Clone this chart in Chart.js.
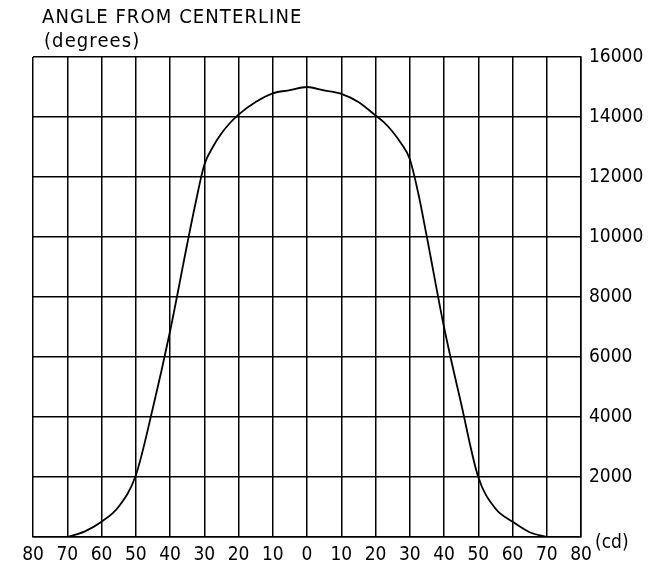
<!DOCTYPE html>
<html>
<head>
<meta charset="utf-8">
<script src="https://cdn.jsdelivr.net/npm/chart.js@4/dist/chart.umd.min.js"></script>
<style>
    body { margin: 0; background: #fff; }
    #wrap { width: 653px; height: 574px; }
</style>
</head>
<body>
<div id="wrap"><canvas id="beam-chart" width="653" height="574"></canvas></div>
<script>
// angle from centerline (deg) and luminous intensity (cd)
const angles = [-70, -65, -60, -55, -50, -45, -40, -35, -32.5, -30, -27.5, -25, -22.5, -20, -15, -10, -5, 0,
                5, 10, 15, 20, 22.5, 25, 27.5, 30, 32.5, 35, 40, 45, 50, 55, 60, 65, 70];
const candela = [0, 180, 510, 1010, 2050, 4300, 6850, 9750, 11150, 12400, 13000, 13450, 13800, 14080, 14500, 14790, 14895, 15000,
                 14885, 14770, 14500, 14050, 13820, 13510, 13120, 12600, 11450, 10000, 7000, 4450, 2000, 950, 510, 160, 0];

const titleLines = ["ANGLE FROM CENTERLINE", "(degrees)"];
const unitLabel = "(cd)";

const FONT = "DejaVu Sans Condensed, DejaVu Sans, sans-serif";

const labelsPlugin = {
    id: "drawingLabels",
    afterDraw(chart) {
        const ctx = chart.ctx;
        const yScale = chart.scales.y;
        ctx.save();
        ctx.fillStyle = "#000";
        ctx.font = "20px " + FONT;
        ctx.textAlign = "left";
        ctx.textBaseline = "alphabetic";
        ctx.letterSpacing = "1.1px";
        ctx.fillText(titleLines[0], 42, 23);
        ctx.fillText(titleLines[1], 44, 47);
        ctx.letterSpacing = "0px";
        ctx.font = "19px " + FONT;
        ctx.textBaseline = "middle";
        ctx.fillText(unitLabel, yScale.left + 14, yScale.getPixelForValue(0) + 6);
        ctx.restore();
    }
};

const points = angles.map((a, i) => ({ x: a, y: candela[i] }));

const ctx = document.getElementById("beam-chart").getContext("2d");

new Chart(ctx, {
    type: "line",
    data: {
        datasets: [
            {
                data: points,
                borderColor: "#000",
                borderWidth: 1.8,
                pointRadius: 0,
                cubicInterpolationMode: "monotone",
                fill: false
            }
        ]
    },
    options: {
        responsive: false,
        animation: false,
        layout: {
            padding: { left: 33, top: 57, right: 0, bottom: 0 }
        },
        plugins: {
            legend: { display: false },
            tooltip: { enabled: false }
        },
        scales: {
            x: {
                type: "linear",
                min: -80,
                max: 80,
                grid: { color: "#000", lineWidth: 1.5, drawTicks: false },
                border: { color: "#000", width: 1.5 },
                ticks: {
                    stepSize: 10,
                    autoSkip: false,
                    maxRotation: 0,
                    padding: 7,
                    color: "#000",
                    font: { family: FONT, size: 19 },
                    callback: v => Math.abs(v).toString()
                },
                afterFit: scale => { scale.height = 37; }
            },
            y: {
                position: "right",
                min: 0,
                max: 16000,
                grid: { color: "#000", lineWidth: 1.5, drawTicks: false },
                border: { color: "#000", width: 1.5 },
                ticks: {
                    stepSize: 2000,
                    padding: 8,
                    color: "#000",
                    font: { family: FONT, size: 19 },
                    callback: v => (v === 0 ? "" : v.toString())
                },
                afterFit: scale => { scale.width = 72; }
            }
        }
    },
    plugins: [labelsPlugin]
});
</script>
</body>
</html>
